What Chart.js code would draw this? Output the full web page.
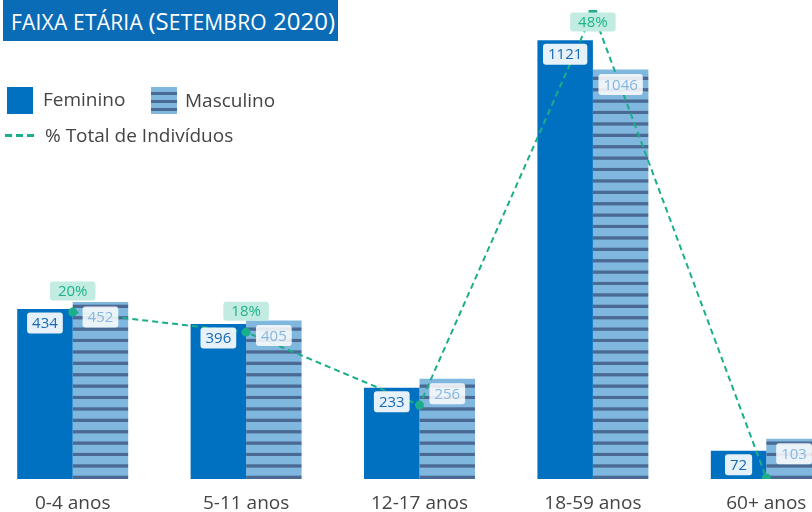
<!DOCTYPE html>
<html>
<head>
<meta charset="utf-8">
<script src="https://cdn.jsdelivr.net/npm/chart.js@4/dist/chart.umd.min.js"></script>
<style>
  html, body { margin: 0; padding: 0; background: #fff; overflow: hidden; width: 812px; height: 512px; }
  #wrap { position: absolute; left: -14px; top: 0; width: 867px; height: 528px; }
  #title { position: absolute; left: 3px; top: 0; width: 335px; height: 41px; background: #0a6cb7;
    color: #fff; font-family: "Open Sans", sans-serif; font-size: 24px;
    line-height: 41px; padding-left: 8px; box-sizing: border-box; white-space: nowrap; }
  #title .sc { font-size: 21px; letter-spacing: 0.2px; }
  .leg { position: absolute; font-family: "Open Sans", sans-serif; font-size: 19px; color: #444; white-space: nowrap; }
  .sw { position: absolute; width: 26px; height: 27px; }
</style>
</head>
<body>
<div id="wrap"><canvas id="c"></canvas></div>
<div id="title"><span class="sc">FAIXA ETÁRIA </span>(S<span class="sc">ETEMBRO</span> 2020)</div>
<div class="sw" style="left:7px;top:87px;background:#0070c0;"></div>
<div class="leg" style="left:43px;top:86px;line-height:27px;">Feminino</div>
<div class="sw" style="left:151px;top:87px;background:repeating-linear-gradient(to bottom,#80b7de 0px,#80b7de 5px,#4a6a94 5px,#4a6a94 8px);"></div>
<div class="leg" style="left:185px;top:87px;line-height:27px;">Masculino</div>
<div style="position:absolute;left:5px;top:134px;width:31px;height:3px;background:repeating-linear-gradient(to right,#1aae8a 0px,#1aae8a 7px,transparent 7px,transparent 11px);"></div>
<div class="leg" style="left:45px;top:122px;line-height:27px;">% Total de Indivíduos</div>
<script>
const categories = ["0-4 anos", "5-11 anos", "12-17 anos", "18-59 anos", "60+ anos"];
const feminino = [434, 396, 233, 1121, 72];
const masculino = [452, 405, 256, 1046, 103];
const pctTotal = [19.6, 17.7, 10.8, 48.0, 3.9];
const pctShown = [true, true, false, true, false];

function stripePattern() {
  const p = document.createElement('canvas');
  p.width = 4; p.height = 57;
  const g = p.getContext('2d');
  g.fillStyle = '#80b7de';
  g.fillRect(0, 0, 4, 57);
  g.fillStyle = '#4a6a94';
  for (let k = 0; k < 5; k++) {
    g.fillRect(0, 8.3 + 11.4 * k, 4, 3.3);
  }
  return document.getElementById('c').getContext('2d').createPattern(p, 'repeat');
}

function roundRect(ctx, x, y, w, h, r) {
  ctx.beginPath();
  ctx.moveTo(x + r, y);
  ctx.lineTo(x + w - r, y); ctx.quadraticCurveTo(x + w, y, x + w, y + r);
  ctx.lineTo(x + w, y + h - r); ctx.quadraticCurveTo(x + w, y + h, x + w - r, y + h);
  ctx.lineTo(x + r, y + h); ctx.quadraticCurveTo(x, y + h, x, y + h - r);
  ctx.lineTo(x, y + r); ctx.quadraticCurveTo(x, y, x + r, y);
  ctx.closePath();
}

function drawLabel(ctx, text, cx, cy, bg, fg, padX, h) {
  ctx.font = '15px "Open Sans", sans-serif';
  const w = ctx.measureText(text).width + padX * 2;
  ctx.fillStyle = bg;
  roundRect(ctx, cx - w / 2, cy - h / 2, w, h, 3);
  ctx.fill();
  ctx.fillStyle = fg;
  ctx.textAlign = 'center';
  ctx.textBaseline = 'middle';
  ctx.fillText(text, cx, cy + 1);
}

const labelPlugin = {
  id: 'valueLabels',
  afterDatasetsDraw(chart) {
    const ctx = chart.ctx;
    ctx.save();
    const fem = chart.getDatasetMeta(1), mas = chart.getDatasetMeta(2), line = chart.getDatasetMeta(0);
    fem.data.forEach((el, i) => drawLabel(ctx, String(feminino[i]), el.x, el.y + 14, 'rgba(255,255,255,0.9)', '#1568b5', 5, 21));
    mas.data.forEach((el, i) => drawLabel(ctx, String(masculino[i]), el.x, el.y + 15, 'rgba(255,255,255,0.85)', '#86b6df', 5, 21));
    line.data.forEach((el, i) => {
      if (!pctShown[i]) return;
      const cy = Math.max(el.y - 21, 22);
      drawLabel(ctx, Math.round(pctTotal[i]) + '%', el.x, cy, '#c2ece2', '#1db38a', 8, 19);
    });
    ctx.restore();
  }
};

new Chart(document.getElementById('c'), {
  data: {
    labels: categories,
    datasets: [
      { type: 'line', label: '% Total de Indivíduos', data: pctTotal, yAxisID: 'y2', order: 0,
        borderColor: '#1aae8a', borderWidth: 2, borderDash: [6, 4], backgroundColor: '#1aae8a',
        pointRadius: 4.5, pointBackgroundColor: '#1aae8a', pointBorderWidth: 0, tension: 0, fill: false },
      { type: 'bar', label: 'Feminino', data: feminino, yAxisID: 'y', order: 1,
        backgroundColor: '#0070c0', borderWidth: 0, categoryPercentage: 0.64, barPercentage: 1.0 },
      { type: 'bar', label: 'Masculino', data: masculino, yAxisID: 'y', order: 1,
        backgroundColor: stripePattern(), borderWidth: 0, categoryPercentage: 0.64, barPercentage: 1.0 }
    ]
  },
  options: {
    responsive: true, maintainAspectRatio: false, animation: false,
    layout: { autoPadding: false, padding: { top: 10, left: 0, right: 0, bottom: 0 } },
    plugins: { legend: { display: false }, tooltip: { enabled: false }, title: { display: false } },
    scales: {
      x: { grid: { display: false, drawTicks: false }, border: { display: false },
        ticks: { color: '#444', padding: 15, font: { family: '"Open Sans", sans-serif', size: 19, lineHeight: 1 } } },
      y: { display: false, min: 0, max: 1198 },
      y2: { display: false, min: 3.8, max: 48.2 }
    }
  },
  plugins: [labelPlugin]
});
</script>
</body>
</html>
